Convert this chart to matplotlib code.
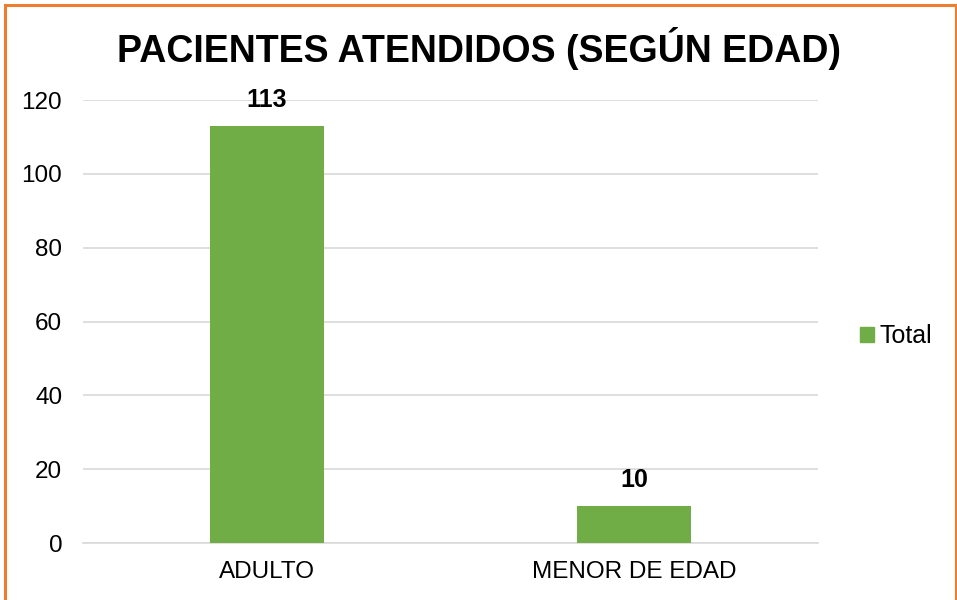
import matplotlib
matplotlib.use("Agg")
import matplotlib.pyplot as plt
from matplotlib.lines import Line2D

categories = ["ADULTO", "MENOR DE EDAD"]
values = [113, 10]
series_name = "Total"
title = "PACIENTES ATENDIDOS (SEGÚN EDAD)"
yticks = [0, 20, 40, 60, 80, 100, 120]

plt.rcParams['font.family'] = ['Liberation Sans', 'DejaVu Sans']

fig = plt.figure(figsize=(9.57, 6.0), dpi=100)
ax = fig.add_axes([83/957, 57/600, (818-83)/957, (543-100)/600])

green = "#70AD47"
x = list(range(len(categories)))
ax.bar(x, values, width=0.31, color=green, label=series_name, zorder=3)
for xi, v in zip(x, values):
    ax.annotate(str(v), (xi, v), xytext=(0, 10), textcoords="offset points",
                ha="center", va="bottom", fontsize=18, fontweight="bold")

ax.set_xlim(-0.5, 1.5)
ax.set_ylim(0, 120)
ax.set_yticks(yticks)
ax.set_xticks(x)
ax.set_xticklabels(categories)
ax.yaxis.grid(True, color="#D9D9D9", linewidth=1.2, zorder=0)
for s in ["top", "right", "left"]:
    ax.spines[s].set_visible(False)
ax.spines["bottom"].set_color("#D9D9D9")
ax.spines["bottom"].set_linewidth(1.2)
ax.tick_params(axis="both", length=0, labelsize=17.5, colors="#000000")
ax.tick_params(axis="y", pad=15)
ax.tick_params(axis="x", pad=13)

fig.text(479/957, 1 - 48/600, title, ha="center", va="center",
         fontsize=27, fontweight="bold")

fig.legend(handles=[plt.Rectangle((0, 0), 1, 1, color=green)], labels=[series_name],
           loc="center left", bbox_to_anchor=(860/957, 1 - 336/600),
           frameon=False, fontsize=18, handlelength=0.55, handleheight=0.55,
           handletextpad=0.25, borderpad=0, borderaxespad=0)

orange = "#ED7D31"
tr = fig.transFigure
fig.add_artist(Line2D([4.5/957, 4.5/957], [0, 1 - 4.5/600], color=orange, lw=2.2, transform=tr))
fig.add_artist(Line2D([4.5/957, 955.5/957], [1 - 4.5/600, 1 - 4.5/600], color=orange, lw=2.2, transform=tr))
fig.add_artist(Line2D([955.5/957, 955.5/957], [0, 1 - 4.5/600], color=orange, lw=2.2, transform=tr))

fig.savefig("out.png", dpi=100, facecolor="white")
